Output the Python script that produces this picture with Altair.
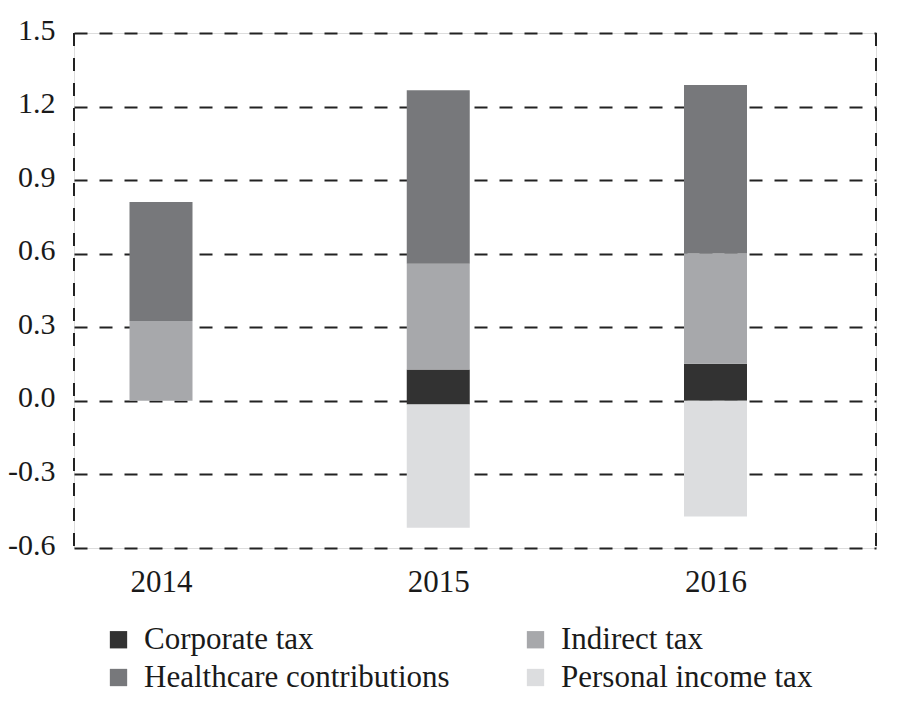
import altair as alt
import pandas as pd

years = [2014, 2015, 2016]
series = ["Corporate tax", "Healthcare contributions", "Indirect tax", "Personal income tax"]
colors = ["#323232", "#77787b", "#a7a8ab", "#dcdddf"]
base = [0.0, -0.015, 0.0]
corporate = [0.0, 0.143, 0.151]
indirect = [0.326, 0.431, 0.450]
healthcare = [0.485, 0.708, 0.687]
personal = [0.0, -0.502, -0.472]
y_ticks = [-0.6, -0.3, 0.0, 0.3, 0.6, 0.9, 1.2, 1.5]

rows = []
for i, yr in enumerate(years):
    b = base[i]
    pos = b
    for name, vals in (("Corporate tax", corporate), ("Indirect tax", indirect), ("Healthcare contributions", healthcare)):
        v = vals[i]
        if v != 0:
            rows.append({"year": yr, "series": name, "start": pos, "end": pos + v})
            pos += v
    if personal[i] != 0:
        rows.append({"year": yr, "series": "Personal income tax", "start": b, "end": b + personal[i]})
df = pd.DataFrame(rows)

W, H = 802, 515
FONT = "Liberation Serif"

bars = alt.Chart(df).mark_bar(size=63).encode(
    x=alt.X("year:Q",
            scale=alt.Scale(domain=[2013.6862, 2016.5789], nice=False, zero=False, padding=0),
            axis=alt.Axis(values=years, format="d", title=None, ticks=False, domain=False,
                          grid=False, labelFontSize=31, labelFont=FONT, labelColor="#1a1a1a",
                          labelPadding=19)),
    y=alt.Y("start:Q",
            scale=alt.Scale(domain=[-0.6, 1.5], nice=False, zero=False, padding=0),
            axis=alt.Axis(values=y_ticks, title=None, ticks=False, domain=False,
                          labelExpr="datum.value < 0 ? '-' + format(-datum.value, '.1f') : format(datum.value, '.1f')",
                          labelFontSize=30, labelFont=FONT, labelColor="#1a1a1a", labelPadding=19,
                          labelOffset=-3,
                          grid=True, gridColor="#222222", gridDash=[13, 12], gridWidth=2)),
    y2="end:Q",
    color=alt.Color("series:N",
                    scale=alt.Scale(domain=series, range=colors),
                    legend=alt.Legend(title=None, orient="none", legendX=29, legendY=591,
                                      columns=2, symbolType="square", symbolSize=300,
                                      symbolStrokeWidth=0, labelFontSize=31, labelFont=FONT,
                                      labelColor="#1a1a1a", labelOffset=10,
                                      columnPadding=70, rowPadding=6, labelLimit=500)),
)

frame_df = pd.DataFrame({"side": ["left", "right"]})
left = alt.Chart(frame_df.iloc[[0]]).mark_rule(color="#222222", strokeWidth=2, strokeDash=[13, 12]).encode(
    x=alt.value(0), y=alt.value(0), y2=alt.value(H))
right = alt.Chart(frame_df.iloc[[1]]).mark_rule(color="#222222", strokeWidth=2, strokeDash=[13, 12]).encode(
    x=alt.value(W), y=alt.value(0), y2=alt.value(H))

chart = alt.layer(bars, left, right).properties(
    width=W, height=H,
    autosize=alt.AutoSizeParams(type="none"),
    padding={"left": 66, "top": 25, "right": 10, "bottom": 154},
).configure_view(stroke=None).configure(background="white")

chart.save("out.html", embed_options={"renderer": "svg", "actions": False})
